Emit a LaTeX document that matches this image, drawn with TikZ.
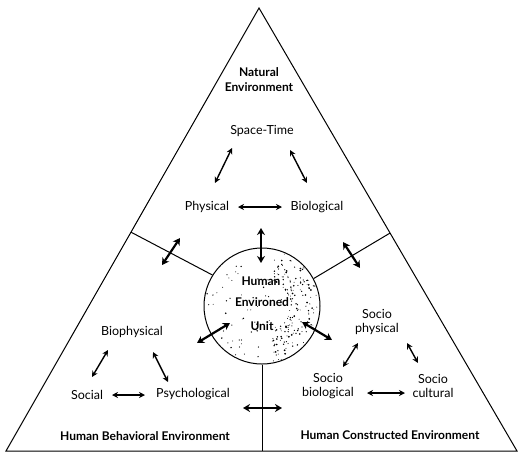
\documentclass[tikz,border=0pt]{standalone}
\usepackage{fontspec}
\setmainfont{Lato}
\usetikzlibrary{arrows.meta,calc}
\tikzset{
  lbl/.style={font=\fontsize{12.5}{14}\selectfont, inner sep=0pt, align=center},
  blbl/.style={font=\fontsize{12}{15}\selectfont\bfseries, inner sep=0pt, align=center},
  rel/.style={{Stealth[length=6pt,width=6pt]}-{Stealth[length=6pt,width=6pt]}, line width=1.4pt},
  bigrel/.style={{Stealth[length=7pt,width=8pt]}-{Stealth[length=7pt,width=8pt]}, line width=2.2pt},
  edge/.style={line width=1pt}
}
\begin{document}
\begin{tikzpicture}[x=1pt,y=-1pt]
\useasboundingbox (0,0) rectangle (519,453);
% triangle
\coordinate (A) at (259,8);
\coordinate (B) at (6,451);
\coordinate (C) at (517,451);
\draw[edge, line join=miter] (A) -- (B) -- (C) -- cycle;
% central unit
\node[circle, draw, line width=1pt, minimum size=116pt, inner sep=0pt] (unit) at (262,306) {};
\begin{scope}
  \clip (262,306) circle (57pt);
  \pgfmathsetseed{11}
  \foreach \i in {1,...,80}{
    \pgfmathsetmacro\ang{rand*180}
    \pgfmathsetmacro\rad{57*sqrt(rnd)}
    \pgfmathsetmacro\sz{0.4+0.4*rnd}
    \fill ($(262,306)+(\ang:\rad)$) circle (\sz pt);
  }
  \foreach \i in {1,...,150}{
    \pgfmathsetmacro\ang{rand*75}
    \pgfmathsetmacro\rad{28+29*rnd}
    \pgfmathsetmacro\sz{0.4+0.6*rnd}
    \fill ($(262,306)+(\ang:\rad)$) circle (\sz pt);
  }
\end{scope}
% dividers
\coordinate (dl) at ($(A)!0.506!(B)$);
\coordinate (dr) at ($(A)!0.508!(C)$);
\coordinate (db) at (262,451);
\draw[edge] (dl) -- (unit.148);
\draw[edge] (dr) -- (unit.28);
\draw[edge] (unit.south) -- (db);
% texts
\node[blbl] (nat) at (259,80) {Natural\\Environment};
\node[lbl] (st) at (262,131) {Space-Time};
\node[lbl] (phys) at (207,207) {Physical};
\node[lbl] (bio) at (317,207) {Biological};
\node[blbl] (hum) at (261,281) {Human};
\node[blbl] (env) at (262,302) {Environed};
\node[blbl] (un) at (262,326) {Unit};
\node[lbl] (biop) at (132,332) {Biophysical};
\node[lbl] (soc) at (87,395) {Social};
\node[lbl] (psy) at (193,394) {Psychological};
\node[blbl] (hbe) at (145,436) {Human Behavioral Environment};
\node[lbl] (sphys) at (377,322) {Socio\\physical};
\node[lbl] (sbio) at (328,386) {Socio\\biological};
\node[lbl] (scul) at (433,386) {Socio\\cultural};
\node[blbl] (hce) at (390,435) {Human Constructed Environment};
% arrow end points
\coordinate (a1) at (232,148); \coordinate (a2) at (215,183);
\coordinate (b1) at (290,150); \coordinate (b2) at (307,183);
\coordinate (c1) at (238,207); \coordinate (c2) at (282,207);
\coordinate (d1) at (261,228); \coordinate (d2) at (261,263);
\coordinate (e1) at (180,238); \coordinate (e2) at (162,265);
\coordinate (f1) at (343,242); \coordinate (f2) at (360,268);
\coordinate (g1) at (197,343); \coordinate (g2) at (230,323);
\coordinate (h1) at (302,322); \coordinate (h2) at (332,340);
\coordinate (i1) at (108,350); \coordinate (i2) at (92,377);
\coordinate (j1) at (153,352); \coordinate (j2) at (168,382);
\coordinate (k1) at (112,395); \coordinate (k2) at (145,395);
\coordinate (l1) at (243,408); \coordinate (l2) at (282,408);
\coordinate (m1) at (358,343); \coordinate (m2) at (343,367);
\coordinate (n1) at (407,343); \coordinate (n2) at (418,363);
\coordinate (o1) at (367,393); \coordinate (o2) at (405,393);
\draw[rel] (a1) -- (a2);
\draw[rel] (b1) -- (b2);
\draw[rel] (c1) -- (c2);
\draw[bigrel] (d1) -- (d2);
\draw[bigrel] (e1) -- (e2);
\draw[bigrel] (f1) -- (f2);
\draw[bigrel] (g1) -- (g2);
\draw[bigrel] (h1) -- (h2);
\draw[rel] (i1) -- (i2);
\draw[rel] (j1) -- (j2);
\draw[rel] (k1) -- (k2);
\draw[bigrel] (l1) -- (l2);
\draw[rel] (m1) -- (m2);
\draw[rel] (n1) -- (n2);
\draw[rel] (o1) -- (o2);
\end{tikzpicture}
\end{document}
